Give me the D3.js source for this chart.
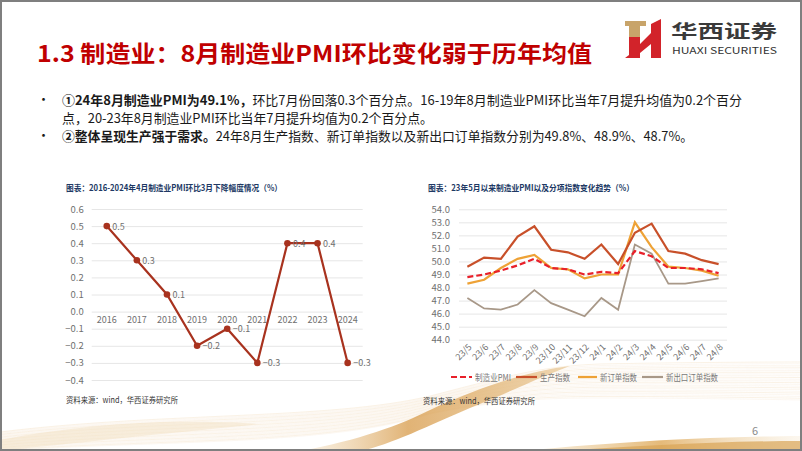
<!DOCTYPE html>
<html><head><meta charset="utf-8">
<script src="https://cdn.jsdelivr.net/npm/d3@7/dist/d3.min.js"></script>
<style>
html,body{margin:0;padding:0;background:#fff;}
svg{display:block;}
text{font-family:"Noto Sans CJK SC","Noto Sans",sans-serif;}
</style></head>
<body>
<svg id="c" width="802" height="451"></svg>
<script>
// ---------- data ----------
const years = ["2016","2017","2018","2019","2020","2021","2022","2023","2024"];
const aprilChange = [0.5, 0.3, 0.1, -0.2, -0.1, -0.3, 0.4, 0.4, -0.3];
const leftTicks = [-0.4,-0.3,-0.2,-0.1,0.0,0.1,0.2,0.3,0.4,0.5,0.6];

const months = ["23/5","23/6","23/7","23/8","23/9","23/10","23/11","23/12","24/1","24/2","24/3","24/4","24/5","24/6","24/7","24/8"];
const pmi        = [48.8,49.0,49.3,49.7,50.2,49.5,49.4,49.0,49.2,49.1,50.8,50.4,49.5,49.5,49.4,49.1];
const production = [49.6,50.3,50.2,51.9,52.7,50.9,50.7,50.2,51.3,49.8,52.2,52.9,50.8,50.6,50.1,49.8];
const newOrders  = [48.3,48.6,49.5,50.2,50.5,49.5,49.4,48.7,49.0,49.0,53.0,51.1,49.6,49.5,49.3,48.9];
const newExport  = [47.2,46.4,46.3,46.7,47.8,46.8,46.3,45.8,47.2,46.3,51.3,50.6,48.3,48.3,48.5,48.7];
const rightTicks = [44,45,46,47,48,49,50,51,52,53,54];
const seriesNames = ["制造业PMI","生产指数","新订单指数","新出口订单指数"];

const svg = d3.select("#c");

// ---------- decorative background waves ----------
const deco = svg.append("g");
const defs = svg.append("defs");
const g1 = defs.append("linearGradient").attr("id","gold1").attr("x1","0").attr("x2","1").attr("y1","0").attr("y2","0");
g1.append("stop").attr("offset","0").attr("stop-color","#f3e2c4").attr("stop-opacity",0.5);
g1.append("stop").attr("offset","0.5").attr("stop-color","#e2b26a").attr("stop-opacity",0.9);
g1.append("stop").attr("offset","1").attr("stop-color","#f5e6cc").attr("stop-opacity",0.3);
const g2 = defs.append("linearGradient").attr("id","gold2").attr("x1","0").attr("x2","1").attr("y1","0").attr("y2","0");
g2.append("stop").attr("offset","0").attr("stop-color","#e9c690").attr("stop-opacity",0.3);
g2.append("stop").attr("offset","0.4").attr("stop-color","#d79a48").attr("stop-opacity",1);
g2.append("stop").attr("offset","1").attr("stop-color","#e8c590").attr("stop-opacity",0.9);

function lerp(a,b,t){return a+(b-a)*t;}
const topPts = [[0,432],[160,412],[330,420],[430,396],[500,378],[540,366],[600,364],[700,362],[802,362]];
const botPts = [[0,451],[160,440],[330,446],[430,414],[500,400],[560,398],[620,398],[700,398],[802,400]];
const nLines = 22;
for(let i=0;i<=nLines;i++){
  const t=i/nLines;
  const pts = topPts.map((p,j)=>[p[0], lerp(p[1],botPts[j][1],t)]);
  const s = i%3===0?0.8:0.45;
  deco.append("path").attr("d",`M${pts[0]} C${pts[1]} ${pts[2]} ${pts[3]} C${pts[4]} ${pts[5]} ${pts[6]} C${pts[7]} ${pts[8]} ${pts[8]}`)
    .attr("fill","none").attr("stroke","#e0b271").attr("stroke-opacity",0.22).attr("stroke-width",s);
}
deco.append("path").attr("d","M300,451 C360,440 400,425 430,410 C470,392 520,372 570,366 C545,375 510,392 470,408 C430,425 390,445 360,451 Z")
  .attr("fill","url(#gold2)").attr("opacity",0.75);
deco.append("path").attr("d","M0,440 C80,425 160,418 260,424 C200,430 100,440 0,451 Z").attr("fill","#f1dcb8").attr("opacity",0.4);
deco.append("path").attr("d","M520,451 C600,444 680,437 802,436 L802,451 Z").attr("fill","url(#gold1)");
deco.append("path").attr("d","M560,451 C640,446 720,441 802,441 L802,451 Z").attr("fill","#d9a456").attr("opacity",0.7);

// ---------- border ----------
svg.append("rect").attr("x",1).attr("y",1).attr("width",800).attr("height",449)
  .attr("fill","none").attr("stroke","#7f7f7f").attr("stroke-width",2);

// ---------- title ----------
svg.append("text").attr("x",37).attr("y",62).attr("font-size",23).attr("font-weight","bold")
  .attr("fill","#c00000").attr("textLength",555).attr("lengthAdjust","spacingAndGlyphs")
  .text("1.3 制造业：8月制造业PMI环比变化弱于历年均值");

// ---------- logo ----------
const logo = svg.append("g");
logo.append("polygon").attr("points","625,21 646,21 646,26 640,26 640,37 629,37 629,26 625,26").attr("fill","#c8a46a");
logo.append("polygon").attr("points","629,37 640,37 640,44 651,33 651,24 661,19 661,58 651,58 651,44 640,53 640,58 625,58 629,55").attr("fill","#d2232a");
logo.append("text").attr("x",671).attr("y",38).attr("font-size",18).attr("font-weight","bold").attr("fill","#3a3a3a")
  .attr("textLength",106).attr("lengthAdjust","spacingAndGlyphs").text("华西证券");
logo.append("text").attr("x",672).attr("y",54).attr("font-size",9).attr("fill","#333")
  .attr("font-family","'Open Sans',sans-serif")
  .attr("textLength",105).attr("lengthAdjust","spacingAndGlyphs").text("HUAXI SECURITIES");

// ---------- bullets ----------
const bl = svg.append("g").attr("fill","#1a1a1a");
bl.append("text").attr("x",37).attr("y",104).attr("font-size",13).text("•");
bl.append("text").attr("x",37).attr("y",140).attr("font-size",13).text("•");
const l1 = bl.append("text").attr("x",62).attr("y",105).attr("font-size",13).attr("textLength",680).attr("lengthAdjust","spacingAndGlyphs");
l1.append("tspan").attr("font-weight","bold").text("①24年8月制造业PMI为49.1%，");
l1.append("tspan").text("环比7月份回落0.3个百分点。16-19年8月制造业PMI环比当年7月提升均值为0.2个百分");
bl.append("text").attr("x",62).attr("y",123).attr("font-size",13).attr("textLength",371).attr("lengthAdjust","spacingAndGlyphs")
  .text("点，20-23年8月制造业PMI环比当年7月提升均值为0.2个百分点。");
const l3 = bl.append("text").attr("x",62).attr("y",141).attr("font-size",13).attr("textLength",631).attr("lengthAdjust","spacingAndGlyphs");
l3.append("tspan").attr("font-weight","bold").text("②整体呈现生产强于需求。");
l3.append("tspan").text("24年8月生产指数、新订单指数以及新出口订单指数分别为49.8%、48.9%、48.7%。");

// ---------- left chart ----------
const L = svg.append("g");
L.append("text").attr("x",66).attr("y",191).attr("font-size",8.5).attr("font-weight","bold").attr("fill","#203864")
  .attr("textLength",216).attr("lengthAdjust","spacingAndGlyphs")
  .text("图表：2016-2024年4月制造业PMI环比3月下降幅度情况（%）");
const lx = d3.scaleBand().domain(years).range([91.7,362.7]);
const ly = d3.scaleLinear().domain([-0.4,0.6]).range([380,209]);
const lyAxis = L.append("g").attr("transform","translate(91.7,0)")
  .call(d3.axisLeft(ly).tickValues(leftTicks).tickFormat(d3.format(".1f")).tickSize(-271).tickPadding(8));
lyAxis.select(".domain").remove();
lyAxis.selectAll("line").attr("stroke","#e6e6e6").attr("stroke-width",1);
lyAxis.selectAll("text").attr("fill","#707070").attr("font-size",9.5).attr("font-family","'Noto Sans',sans-serif");
const lxAxis = L.append("g").attr("transform",`translate(0,${ly(0)})`)
  .call(d3.axisBottom(lx).tickSize(0).tickPadding(5));
lxAxis.select(".domain").remove();
lxAxis.selectAll("text").attr("fill","#707070").attr("font-size",9).attr("font-family","'Noto Sans',sans-serif");
const lData = years.map((y,i)=>({y, v:aprilChange[i]}));
const lcx = d=>lx(d.y)+lx.bandwidth()/2;
L.append("path").datum(lData).attr("d",d3.line().x(lcx).y(d=>ly(d.v)))
  .attr("fill","none").attr("stroke","#a8321e").attr("stroke-width",2.2);
L.selectAll("circle.m").data(lData).join("circle").attr("cx",lcx).attr("cy",d=>ly(d.v)).attr("r",3.3).attr("fill","#a8321e");
L.selectAll("text.lab").data(lData).join("text").attr("class","lab")
  .attr("x",d=>lcx(d)+5.5).attr("y",d=>ly(d.v)+3.5).attr("font-size",9).attr("fill","#707070")
  .attr("font-family","'Noto Sans',sans-serif").text(d=>d3.format(".1f")(d.v));
L.append("text").attr("x",66).attr("y",403).attr("font-size",8).attr("fill","#333")
  .attr("textLength",112).attr("lengthAdjust","spacingAndGlyphs").text("资料来源：wind，华西证券研究所");

// ---------- right chart ----------
const R = svg.append("g");
R.append("text").attr("x",428).attr("y",191).attr("font-size",8.5).attr("font-weight","bold").attr("fill","#203864")
  .attr("textLength",206).attr("lengthAdjust","spacingAndGlyphs")
  .text("图表：23年5月以来制造业PMI以及分项指数变化趋势（%）");
const rx = d3.scaleBand().domain(months).range([459,727]);
const ry = d3.scaleLinear().domain([44,54]).range([339.7,209.3]);
const ryAxis = R.append("g").attr("transform","translate(459,0)")
  .call(d3.axisLeft(ry).tickValues(rightTicks).tickFormat(d3.format(".1f")).tickSize(-268).tickPadding(9));
ryAxis.select(".domain").remove();
ryAxis.selectAll("line").attr("stroke","#e6e6e6");
ryAxis.selectAll("text").attr("fill","#707070").attr("font-size",9.5).attr("font-family","'Noto Sans',sans-serif");
const rxAxis = R.append("g").attr("transform",`translate(0,${ry(44)})`)
  .call(d3.axisBottom(rx).tickSize(0).tickPadding(0));
rxAxis.select(".domain").remove();
rxAxis.selectAll("text").attr("fill","#707070").attr("font-size",9).attr("font-family","'Noto Sans',sans-serif")
  .attr("text-anchor","end").attr("dy",0).attr("transform","translate(5,8) rotate(-45)");
const rcx = i=>rx(months[i])+rx.bandwidth()/2;
const seriesList = [
  {name:seriesNames[3], vals:newExport,  color:"#a89888", w:1.8, dash:null},
  {name:seriesNames[2], vals:newOrders,  color:"#eea236", w:2.2, dash:null},
  {name:seriesNames[1], vals:production, color:"#c8502a", w:2.2, dash:null},
  {name:seriesNames[0], vals:pmi,        color:"#e8202a", w:2.2, dash:"6,3"}
];
const rline = d3.line().x((d,i)=>rcx(i)).y(d=>ry(d));
seriesList.forEach(s=>{
  R.append("path").datum(s.vals).attr("d",rline).attr("fill","none")
    .attr("stroke",s.color).attr("stroke-width",s.w).attr("stroke-dasharray",s.dash);
});
const legendItems = [
  {s:seriesList[3], x1:451, x2:472, tx:475, tl:36},
  {s:seriesList[2], x1:516, x2:537, tx:540, tl:30},
  {s:seriesList[1], x1:578, x2:597, tx:600, tl:37},
  {s:seriesList[0], x1:642, x2:663, tx:666, tl:52}
];
const lg = R.append("g");
legendItems.forEach(it=>{
  lg.append("line").attr("x1",it.x1).attr("x2",it.x2).attr("y1",377).attr("y2",377)
    .attr("stroke",it.s.color).attr("stroke-width",2.2).attr("stroke-dasharray",it.s.dash);
  lg.append("text").attr("x",it.tx).attr("y",380.5).attr("font-size",9).attr("fill","#7a7a7a")
    .attr("textLength",it.tl).attr("lengthAdjust","spacingAndGlyphs").text(it.s.name);
});
R.append("text").attr("x",423).attr("y",404).attr("font-size",8).attr("fill","#333")
  .attr("textLength",112).attr("lengthAdjust","spacingAndGlyphs").text("资料来源：wind，华西证券研究所");

svg.append("text").attr("x",752).attr("y",435).attr("font-size",11).attr("fill","#8a8a8a")
  .attr("font-family","'Noto Sans',sans-serif").text("6");
</script>
</body></html>
